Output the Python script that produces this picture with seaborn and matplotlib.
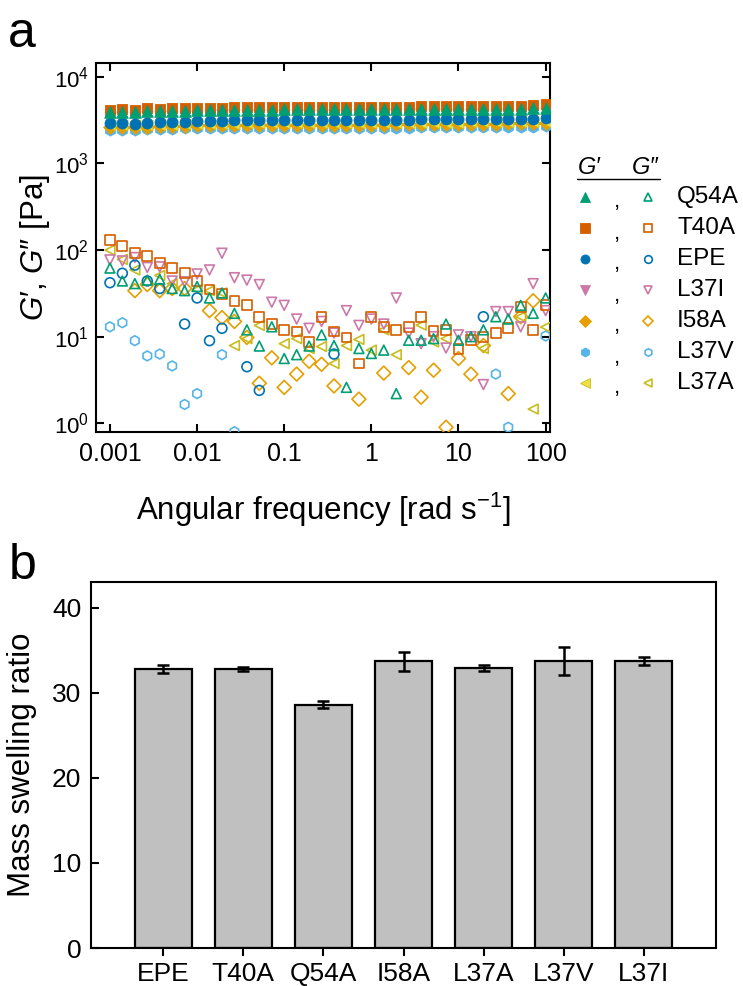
import numpy as np
import pandas as pd
import matplotlib
matplotlib.use('Agg')
import matplotlib.pyplot as plt
from matplotlib.lines import Line2D
from matplotlib.ticker import FixedLocator, FuncFormatter, NullLocator
import seaborn as sns

# =========================
# DATA
# =========================
nan = np.nan

# angular frequency sweep [rad/s], 7 points per decade
freq = [0.001, 0.001389, 0.001931, 0.002683, 0.003728, 0.005179, 0.007197,
        0.01, 0.01389, 0.01931, 0.02683, 0.03728, 0.05179, 0.07197,
        0.1, 0.1389, 0.1931, 0.2683, 0.3728, 0.5179, 0.7197,
        1, 1.389, 1.931, 2.683, 3.728, 5.179, 7.197,
        10, 13.89, 19.31, 26.83, 37.28, 51.79, 71.97, 100]

# storage modulus G' [Pa]
gp_q54a = [3900, 3950, 3900, 4000, 4000, 4050, 4050, 4100, 4100, 4100, 4150, 4150,
           4150, 4150, 4200, 4200, 4200, 4200, 4200, 4200, 4200, 4200, 4250, 4250,
           4250, 4250, 4250, 4250, 4250, 4300, 4300, 4300, 4300, 4300, 4350, 4400]
gp_t40a = [4100, 4200, 4150, 4350, 4300, 4350, 4350, 4400, 4400, 4400, 4450, 4450,
           4450, 4450, 4450, 4450, 4500, 4500, 4500, 4500, 4500, 4500, 4500, 4500,
           4500, 4550, 4550, 4550, 4550, 4550, 4550, 4600, 4600, 4600, 4750, 4800]
gp_epe = [2950, 2950, 2850, 2950, 3000, 3050, 3050, 3100, 3100, 3100, 3150, 3150,
          3150, 3150, 3150, 3200, 3200, 3200, 3200, 3200, 3200, 3200, 3200, 3200,
          3200, 3250, 3250, 3250, 3250, 3250, 3250, 3250, 3300, 3300, 3300, 3350]
gp_l37i = [3400, 3450, 3400, 3500, 3500, 3550, 3550, 3550, 3600, 3600, 3600, 3600,
           3600, 3650, 3650, 3650, 3650, 3650, 3650, 3650, 3700, 3700, 3700, 3700,
           3700, 3700, 3700, 3700, 3700, 3750, 3750, 3750, 3750, 3750, 3800, 3800]
gp_i58a = [2650, 2650, 2650, 2650, 2700, 2700, 2700, 2750, 2750, 2750, 2750, 2750,
           2750, 2800, 2800, 2800, 2800, 2800, 2800, 2800, 2800, 2800, 2800, 2850,
           2850, 2850, 2850, 2850, 2850, 2850, 2850, 2850, 2900, 2900, 2900, 2950]
gp_l37v = [2450, 2450, 2450, 2500, 2500, 2500, 2550, 2550, 2550, 2550, 2550, 2550,
           2600, 2600, 2600, 2600, 2600, 2600, 2600, 2600, 2600, 2600, 2600, 2600,
           2600, 2650, 2650, 2650, 2650, 2650, 2650, 2650, 2650, 2650, 2650, 2700]
gp_l37a = [2750, 2750, 2750, 2800, 2800, 2800, 2850, 2850, 2850, 2850, 2850, 2900,
           2900, 2900, 2900, 2900, 2900, 2900, 2900, 2950, 2950, 2950, 2950, 2950,
           2950, 2950, 2950, 2950, 2950, 3000, 3000, 3000, 3000, 3000, 3000, 3050]

# loss modulus G'' [Pa] (nan = hidden behind other markers)
gpp_q54a = [62, 44, 41, 45, 46, 36, 34, 38, 28, 32, 18.6, 12,
            7.8, 13, 5.6, 6.2, 7.8, 10.5, 7.9, 2.6, 7.3, 6.4, 7.0, 2.2,
            9.1, 9.1, 9.5, 14, 9.1, 10, 12, 17, 16, 23, 18.6, 28]
gpp_t40a = [130, 112, 93, 85, 71, 62, 54, 44, 35, 31, 26, 23,
            17, 14, 12, 11.5, 8.7, 17, 11.5, 9.8, 4.9, 17, 13, 12,
            13, 17, 11.6, 12, 7.2, 9.1, 10, 11, 12.6, 22, 12, 23]
gpp_epe = [42, 54, 67, 44, 36, nan, 14, 28, 9, 12.5, nan, 4.5,
           2.4, nan, nan, nan, nan, nan, 6.3, nan, nan, nan, nan, nan,
           nan, nan, nan, nan, nan, nan, 17, nan, nan, nan, nan, nan]
gpp_l37i = [77, 75, 82, 63, 64, 44, 43, 53, 59, 92, 48, 45,
            40, 25, 23, 16, 12.5, 15, 11, 20, 13.5, 16, 14, 28,
            11, 8.3, 10, 7.4, 10.5, 10, 2.8, 19.5, 19.5, 13, 41, 20]
gpp_i58a = [nan, nan, 34, 40, 34, 36, 36, nan, 20, 16.6, 15, 9.8,
            2.9, 5.7, 2.6, 3.7, 5.2, 4.8, 2.7, nan, 1.9, nan, 3.8, nan,
            4.4, 2.0, 4.1, 0.9, 5.6, 3.7, 7.9, nan, 2.2, 17, 26, nan]
gpp_l37v = [13, 14.5, 9, 6, 6.3, 4.6, 1.65, 2.2, nan, 6.2, 0.8, nan,
            nan, nan, nan, nan, nan, nan, nan, nan, nan, nan, nan, nan,
            nan, nan, nan, nan, nan, nan, nan, 3.7, 0.9, nan, nan, 10.2]
gpp_l37a = [100, 78, 59, nan, 51, 41, nan, 35, 34, 32, 7.9, 9.5,
            13.5, nan, 8.3, 9.5, 7.3, 7.7, 4.9, 7.9, 9.3, 7.0, 12, 6.2,
            nan, 13.6, 8.7, 9.5, nan, nan, 7.3, nan, nan, 17, 1.46, 12.9]

# legend order of the rheology panel
samples = ['Q54A', 'T40A', 'EPE', 'L37I', 'I58A', 'L37V', 'L37A']
storage = [gp_q54a, gp_t40a, gp_epe, gp_l37i, gp_i58a, gp_l37v, gp_l37a]
loss = [gpp_q54a, gpp_t40a, gpp_epe, gpp_l37i, gpp_i58a, gpp_l37v, gpp_l37a]

# swelling ratio (panel b)
bar_names = ['EPE', 'T40A', 'Q54A', 'I58A', 'L37A', 'L37V', 'L37I']
bar_means = [32.8, 32.8, 28.6, 33.7, 32.9, 33.7, 33.7]
bar_errs = [0.5, 0.25, 0.45, 1.1, 0.4, 1.65, 0.45]

# =========================
# STYLE
# =========================
colors = {'Q54A': '#009E73', 'T40A': '#D55E00', 'EPE': '#0072B2', 'L37I': '#CC79A7',
          'I58A': '#E69F00', 'L37V': '#56B4E9', 'L37A': '#EEE040'}
edges = dict(colors, L37A='#C9BC1E')
markers = {'Q54A': '^', 'T40A': 's', 'EPE': 'o', 'L37I': 'v',
           'I58A': 'D', 'L37V': 'h', 'L37A': '<'}
filled_size = {'Q54A': 70, 'T40A': 50, 'EPE': 62, 'L37I': 62,
               'I58A': 50, 'L37V': 66, 'L37A': 62}
draw_order = ['L37V', 'I58A', 'L37A', 'L37I', 'EPE', 'T40A', 'Q54A']

sns.set_style('ticks')
plt.rcParams['font.family'] = ['Liberation Sans', 'DejaVu Sans']
plt.rcParams['mathtext.fontset'] = 'custom'
plt.rcParams['mathtext.rm'] = 'Liberation Sans'
plt.rcParams['mathtext.it'] = 'Liberation Sans:italic'
plt.rcParams['axes.linewidth'] = 1.5
for key in ['text.color', 'axes.labelcolor', 'xtick.color', 'ytick.color', 'axes.edgecolor']:
    plt.rcParams[key] = 'black'

long = []
for name, gp, gpp in zip(samples, storage, loss):
    long.append(pd.DataFrame({'freq': freq, 'G': gp, 'sample': name, 'mod': "G'"}))
    long.append(pd.DataFrame({'freq': freq, 'G': gpp, 'sample': name, 'mod': "G''"}))
df = pd.concat(long, ignore_index=True)

fig = plt.figure(figsize=(7.43, 9.86), dpi=100)
ax_a = fig.add_axes([0.1292, 0.5619, 0.6110, 0.3742])
ax_b = fig.add_axes([0.1225, 0.0385, 0.8412, 0.3712])

# =========================
# PANEL a: frequency sweep
# =========================
ax_a.set_xscale('log')
ax_a.set_yscale('log')
for name in draw_order:
    sub = df[(df['sample'] == name) & (df['mod'] == "G''")]
    sns.scatterplot(data=sub, x='freq', y='G', ax=ax_a, marker=markers[name], s=50,
                    facecolor='none', edgecolor=edges[name], linewidth=1.2,
                    legend=False, zorder=3)
for name in draw_order:
    sub = df[(df['sample'] == name) & (df['mod'] == "G'")]
    sns.scatterplot(data=sub, x='freq', y='G', ax=ax_a, marker=markers[name],
                    s=filled_size[name], color=colors[name], edgecolor=edges[name],
                    linewidth=0.6, legend=False, zorder=4)

ax_a.set_xlim(10 ** -3.16, 10 ** 2.05)
ax_a.set_ylim(10 ** -0.1, 10 ** 4.16)
ax_a.xaxis.set_major_locator(FixedLocator([0.001, 0.01, 0.1, 1, 10, 100]))
ax_a.xaxis.set_major_formatter(FuncFormatter(lambda v, p: '%g' % v))
ax_a.xaxis.set_minor_locator(NullLocator())
ax_a.yaxis.set_major_locator(FixedLocator([1, 10, 100, 1000, 10000]))
ax_a.yaxis.set_minor_locator(NullLocator())
ax_a.tick_params(which='major', direction='in', length=6, width=1.5,
                 top=True, right=True, labelsize=18, pad=7)
ax_a.tick_params(axis='y', labelsize=16, pad=5)
ax_a.set_xlabel('Angular frequency [rad s$^{-1}$]', fontsize=22.5)
ax_a.set_ylabel('$G$′, $G$″ [Pa]', fontsize=22.5)
ax_a.xaxis.set_label_coords(0.5, -0.158)
ax_a.yaxis.set_label_coords(-0.098, 0.5)
for sp in ax_a.spines.values():
    sp.set_linewidth(1.5)

# legend built by hand: filled G', comma, open G'', name
W, H = 743.0, 986.0
fig.text(589 / W, 1 - 168 / H, 'G′', style='italic', fontsize=17, ha='center', va='center')
fig.text(645 / W, 1 - 168 / H, 'G″', style='italic', fontsize=17, ha='center', va='center')
fig.add_artist(Line2D([577 / W, 660 / W], [1 - 179 / H, 1 - 179 / H], color='black',
                      lw=1.0, transform=fig.transFigure))
for i, name in enumerate(samples):
    yy = 1 - (197 + i * 31) / H
    fig.add_artist(Line2D([585 / W], [yy], marker=markers[name], markersize=6.5,
                          color=colors[name], markeredgecolor=edges[name], mew=0.6,
                          linestyle='none', transform=fig.transFigure))
    fig.add_artist(Line2D([648 / W], [yy], marker=markers[name], markersize=5.5,
                          markerfacecolor='white', markeredgecolor=edges[name], mew=1.2,
                          linestyle='none', transform=fig.transFigure))
    fig.text(617 / W, yy - 5 / H, ',', fontsize=16, ha='center', va='center')
    fig.text(677 / W, yy, name, fontsize=17.5, ha='left', va='center')

# =========================
# PANEL b: swelling ratio
# =========================
sns.barplot(x=bar_names, y=bar_means, color='#C0C0C0', edgecolor='black',
            linewidth=1.6, width=0.71, errorbar=None, saturation=1, ax=ax_b)
ax_b.errorbar(np.arange(len(bar_names)), bar_means, yerr=bar_errs, fmt='none',
              ecolor='black', elinewidth=1.8, capsize=4, capthick=1.8, zorder=5)
ax_b.set_xlim(-0.9, 6.9)
ax_b.set_ylim(0, 43)
ax_b.set_yticks([0, 10, 20, 30, 40])
ax_b.tick_params(axis='y', direction='in', length=6, width=1.5, labelsize=19, pad=7)
ax_b.tick_params(axis='x', direction='out', length=6, width=1.5, labelsize=19, pad=4)
ax_b.set_ylabel('Mass swelling ratio', fontsize=22.5)
ax_b.set_xlabel('')
ax_b.yaxis.set_label_coords(-0.086, 0.5)
for sp in ax_b.spines.values():
    sp.set_visible(True)
    sp.set_linewidth(1.5)

# panel letters
fig.text(8 / W, 1 - 47 / H, 'a', fontsize=36, ha='left', va='baseline')
fig.text(9 / W, 1 - 579 / H, 'b', fontsize=36, ha='left', va='baseline')

fig.savefig('out.png', dpi=100)
